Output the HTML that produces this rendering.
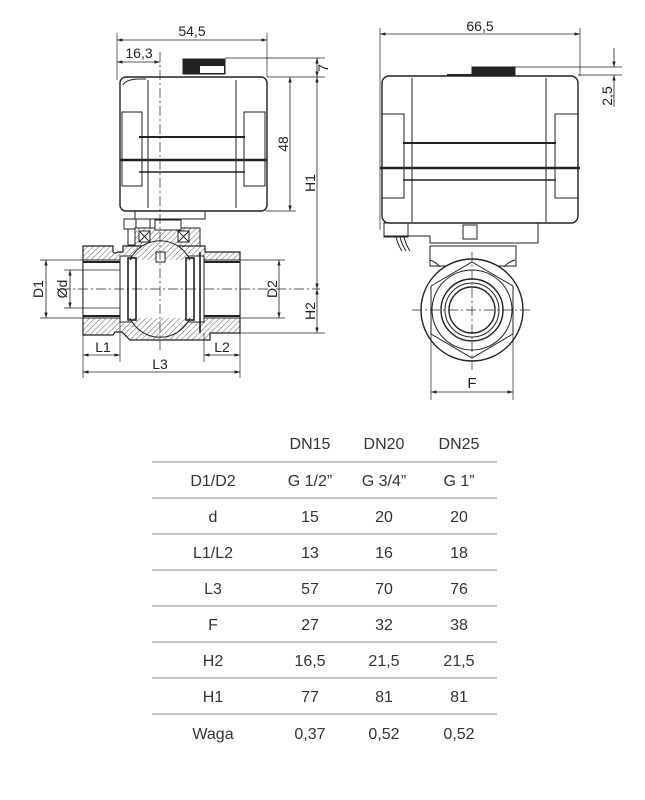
<!DOCTYPE html>
<html><head><meta charset="utf-8"><style>
html,body{margin:0;padding:0;background:#fff;}
body{width:645px;height:800px;position:relative;overflow:hidden;font-family:"Liberation Sans",Arial,sans-serif;}
svg{position:absolute;left:0;top:0;}
</style></head><body>
<svg width="645" height="800" viewBox="0 0 645 800" xmlns="http://www.w3.org/2000/svg">
<defs>
<pattern id="h" width="4" height="4" patternUnits="userSpaceOnUse" patternTransform="rotate(45)">
<rect width="4" height="4" fill="#fff"/><line x1="0" y1="0" x2="0" y2="4" stroke="#333" stroke-width="0.8"/>
</pattern>
<marker id="a" viewBox="0 0 10 10" refX="10" refY="5" markerWidth="7" markerHeight="7" orient="auto-start-reverse"><path d="M0,2 L10,5 L0,8 z" fill="#222"/></marker>
</defs>
<g fill="none" stroke="#222" stroke-width="1">
<rect x="120" y="77" width="147" height="134" rx="6" fill="#fff" stroke-width="1.4"/>
<line x1="148" y1="80" x2="148" y2="208"/><line x1="236" y1="80" x2="236" y2="208"/>
<path d="M123,85 Q126,79 140,79 L146,79"/>
<rect x="122" y="112" width="20" height="74"/><rect x="244" y="112" width="21" height="74"/>
<line x1="139" y1="137" x2="245" y2="137" stroke-width="2"/>
<line x1="120" y1="160" x2="267" y2="160" stroke-width="2.4"/>
<line x1="139" y1="172" x2="245" y2="172" stroke-width="1.6"/>
<rect x="183" y="59" width="42" height="15" fill="#222"/>
<rect x="200" y="66" width="24" height="7" fill="#fff" stroke="none"/>
<rect x="135" y="211" width="70" height="8"/>
<rect x="124" y="219" width="12" height="10"/>
<rect x="150" y="219" width="26" height="12"/>
<rect x="128" y="229" width="7" height="16"/>
<path d="M135,228 L200,228 L200,246 L135,246 Z" fill="url(#h)"/>
<rect x="139" y="231" width="11" height="11" fill="#fff"/><path d="M139,231 l11,11 M150,231 l-11,11"/>
<rect x="178" y="231" width="11" height="11" fill="#fff"/><path d="M178,231 l11,11 M189,231 l-11,11"/>
<rect x="155" y="220" width="26" height="10" fill="#fff"/>
<path d="M83,246 L113,246 L113,252 Q115,254 118,252 L123,252 L123,246 L205,246 L205,252 L240,252 L240,333 L210,333 L210,340 L130,340 L122,332 L115,332 L113,335 L83,335 Z" fill="url(#h)" stroke-width="1.2"/>
<rect x="83" y="260" width="37" height="58" fill="#fff"/>
<rect x="204" y="260" width="36" height="58" fill="#fff"/>
<rect x="120" y="256" width="84" height="66" fill="#fff"/>
<line x1="83" y1="262" x2="120" y2="262" stroke-width="2"/><line x1="83" y1="316" x2="120" y2="316" stroke-width="2"/>
<line x1="204" y1="262" x2="240" y2="262" stroke-width="2"/><line x1="204" y1="316" x2="240" y2="316" stroke-width="2"/>
<path d="M130,260 A33,33 0 0 1 190,260" fill="url(#h)"/>
<path d="M130,318 A33,33 0 0 0 190,318" fill="url(#h)"/>
<rect x="128" y="258" width="8" height="62" stroke-width="1.6"/>
<rect x="186" y="258" width="8" height="62" stroke-width="1.6"/>
<line x1="200" y1="252" x2="200" y2="333" stroke-width="1.6"/>
<rect x="156" y="252" width="9" height="10" fill="#fff"/>
<line x1="160" y1="52" x2="160" y2="350" stroke-dasharray="10,3,2,3" stroke-width="0.7"/>
<line x1="60" y1="289" x2="320" y2="289" stroke-dasharray="10,3,2,3" stroke-width="0.7"/>
<line x1="117" y1="33" x2="117" y2="80" stroke-width="0.7"/><line x1="267" y1="33" x2="267" y2="77" stroke-width="0.7"/>
<line x1="117" y1="40" x2="267" y2="40" marker-start="url(#a)" marker-end="url(#a)" stroke-width="0.8"/>
<line x1="117" y1="62" x2="160" y2="62" marker-start="url(#a)" marker-end="url(#a)" stroke-width="0.8"/>
<line x1="225" y1="58" x2="325" y2="58" stroke-width="0.7"/>
<line x1="267" y1="77" x2="325" y2="77" stroke-width="0.7"/>
<line x1="265" y1="211" x2="296" y2="211" stroke-width="0.7"/>
<line x1="240" y1="333" x2="325" y2="333" stroke-width="0.7"/>
<line x1="317" y1="58" x2="317" y2="77" marker-start="url(#a)" marker-end="url(#a)" stroke-width="0.8"/>
<line x1="290" y1="77" x2="290" y2="211" marker-start="url(#a)" marker-end="url(#a)" stroke-width="0.8"/>
<line x1="317" y1="77" x2="317" y2="289" marker-start="url(#a)" marker-end="url(#a)" stroke-width="0.8"/>
<line x1="317" y1="289" x2="317" y2="333" marker-start="url(#a)" marker-end="url(#a)" stroke-width="0.8"/>
<line x1="40" y1="260" x2="83" y2="260" stroke-width="0.7"/><line x1="40" y1="318" x2="83" y2="318" stroke-width="0.7"/>
<line x1="64" y1="270" x2="120" y2="270" stroke-width="0.7"/><line x1="64" y1="308" x2="120" y2="308" stroke-width="0.7"/>
<line x1="240" y1="260" x2="285" y2="260" stroke-width="0.7"/><line x1="240" y1="318" x2="285" y2="318" stroke-width="0.7"/>
<line x1="46" y1="260" x2="46" y2="318" marker-start="url(#a)" marker-end="url(#a)" stroke-width="0.8"/>
<line x1="70" y1="270" x2="70" y2="308" marker-start="url(#a)" marker-end="url(#a)" stroke-width="0.8"/>
<line x1="279" y1="260" x2="279" y2="318" marker-start="url(#a)" marker-end="url(#a)" stroke-width="0.8"/>
<line x1="83" y1="335" x2="83" y2="378" stroke-width="0.7"/><line x1="120" y1="318" x2="120" y2="362" stroke-width="0.7"/>
<line x1="204" y1="333" x2="204" y2="362" stroke-width="0.7"/><line x1="240" y1="333" x2="240" y2="378" stroke-width="0.7"/>
<line x1="83" y1="355" x2="120" y2="355" marker-start="url(#a)" marker-end="url(#a)" stroke-width="0.8"/>
<line x1="204" y1="355" x2="240" y2="355" marker-start="url(#a)" marker-end="url(#a)" stroke-width="0.8"/>
<line x1="83" y1="372" x2="240" y2="372" marker-start="url(#a)" marker-end="url(#a)" stroke-width="0.8"/>

<rect x="382" y="76" width="196" height="147" rx="7" fill="#fff" stroke-width="1.4"/>
<line x1="412" y1="78" x2="412" y2="222"/><line x1="546" y1="78" x2="546" y2="222"/>
<rect x="382" y="114" width="22" height="84"/><rect x="555" y="114" width="23" height="84"/>
<line x1="403" y1="143" x2="556" y2="143" stroke-width="2"/>
<line x1="380" y1="168" x2="580" y2="168" stroke-width="2.4"/>
<line x1="403" y1="180" x2="556" y2="180" stroke-width="1.6"/>
<rect x="472" y="67" width="43" height="8" fill="#222"/>
<line x1="447" y1="75" x2="472" y2="75" stroke-width="2"/>
<path d="M384,223 L538,223 L538,243 L430,243 L430,236 L384,236 Z"/>
<rect x="384" y="223" width="24" height="14"/>
<path d="M396,237 q2,8 6,14 M400,237 q2,8 6,14 M404,237 q2,8 6,14"/>
<rect x="463" y="225" width="14" height="14"/>
<rect x="430" y="246" width="86" height="20" fill="#fff"/>
<circle cx="472" cy="310" r="51" fill="#fff" stroke-width="1.4"/>
<path d="M440,267 Q436,262 430,260 M504,267 Q508,262 515,260"/>
<polygon points="472,262 513,286 513,334 472,358 431,334 431,286" />
<circle cx="472" cy="310" r="40"/>
<circle cx="472" cy="310" r="31" stroke-width="1.4"/>
<circle cx="472" cy="310" r="27"/>
<circle cx="472" cy="310" r="23" stroke-width="1.4"/>
<line x1="412" y1="310" x2="532" y2="310" stroke-dasharray="10,3,2,3" stroke-width="0.7"/>
<line x1="472" y1="252" x2="472" y2="370" stroke-dasharray="10,3,2,3" stroke-width="0.7"/>
<line x1="380" y1="28" x2="380" y2="230" stroke-width="0.7"/><line x1="580" y1="28" x2="580" y2="76" stroke-width="0.7"/>
<line x1="380" y1="34" x2="580" y2="34" marker-start="url(#a)" marker-end="url(#a)" stroke-width="0.8"/>
<line x1="515" y1="67" x2="622" y2="67" stroke-width="0.7"/><line x1="578" y1="75" x2="622" y2="75" stroke-width="0.7"/>
<line x1="614" y1="48" x2="614" y2="67" marker-end="url(#a)" stroke-width="0.8"/>
<line x1="614" y1="107" x2="614" y2="75" marker-end="url(#a)" stroke-width="0.8"/>
<line x1="431" y1="334" x2="431" y2="400" stroke-width="0.7"/><line x1="513" y1="334" x2="513" y2="400" stroke-width="0.7"/>
<line x1="431" y1="392" x2="513" y2="392" marker-start="url(#a)" marker-end="url(#a)" stroke-width="0.8"/>
</g>
<g font-family="Liberation Sans, Arial, sans-serif" font-size="14" fill="#222">
<text x="192" y="36" text-anchor="middle">54,5</text>
<text x="139" y="58" text-anchor="middle">16,3</text>
<text x="480" y="31" text-anchor="middle">66,5</text>
<text x="103" y="352" text-anchor="middle">L1</text>
<text x="222" y="352" text-anchor="middle">L2</text>
<text x="160" y="369" text-anchor="middle">L3</text>
<text x="472" y="388" text-anchor="middle" font-size="15">F</text>
<text transform="translate(328,68) rotate(-90)" text-anchor="middle">7</text>
<text transform="translate(288,144) rotate(-90)" text-anchor="middle">48</text>
<text transform="translate(315,183) rotate(-90)" text-anchor="middle">H1</text>
<text transform="translate(315,311) rotate(-90)" text-anchor="middle">H2</text>
<text transform="translate(43,289) rotate(-90)" text-anchor="middle">D1</text>
<text transform="translate(67,289) rotate(-90)" text-anchor="middle">Ød</text>
<text transform="translate(277,289) rotate(-90)" text-anchor="middle">D2</text>
<text transform="translate(612,96) rotate(-90)" text-anchor="middle">2,5</text>
</g>
<g stroke="#bbb" stroke-width="1.8">
<line x1="152" y1="462" x2="497" y2="462"/><line x1="152" y1="498" x2="497" y2="498"/>
<line x1="152" y1="534" x2="497" y2="534"/><line x1="152" y1="570" x2="497" y2="570"/>
<line x1="152" y1="606" x2="497" y2="606"/><line x1="152" y1="642" x2="497" y2="642"/>
<line x1="152" y1="678" x2="497" y2="678"/><line x1="152" y1="714" x2="497" y2="714"/>
</g>
<g font-family="Liberation Sans, Arial, sans-serif" font-size="16" fill="#333" text-anchor="middle">
<text x="310" y="449">DN15</text><text x="384" y="449">DN20</text><text x="459" y="449">DN25</text>
<text x="213" y="486">D1/D2</text><text x="310" y="486">G 1/2”</text><text x="384" y="486">G 3/4”</text><text x="459" y="486">G 1”</text>
<text x="213" y="522">d</text><text x="310" y="522">15</text><text x="384" y="522">20</text><text x="459" y="522">20</text>
<text x="213" y="558">L1/L2</text><text x="310" y="558">13</text><text x="384" y="558">16</text><text x="459" y="558">18</text>
<text x="213" y="594">L3</text><text x="310" y="594">57</text><text x="384" y="594">70</text><text x="459" y="594">76</text>
<text x="213" y="630">F</text><text x="310" y="630">27</text><text x="384" y="630">32</text><text x="459" y="630">38</text>
<text x="213" y="666">H2</text><text x="310" y="666">16,5</text><text x="384" y="666">21,5</text><text x="459" y="666">21,5</text>
<text x="213" y="702">H1</text><text x="310" y="702">77</text><text x="384" y="702">81</text><text x="459" y="702">81</text>
<text x="213" y="739">Waga</text><text x="310" y="739">0,37</text><text x="384" y="739">0,52</text><text x="459" y="739">0,52</text>
</g>
</svg>
</body></html>
